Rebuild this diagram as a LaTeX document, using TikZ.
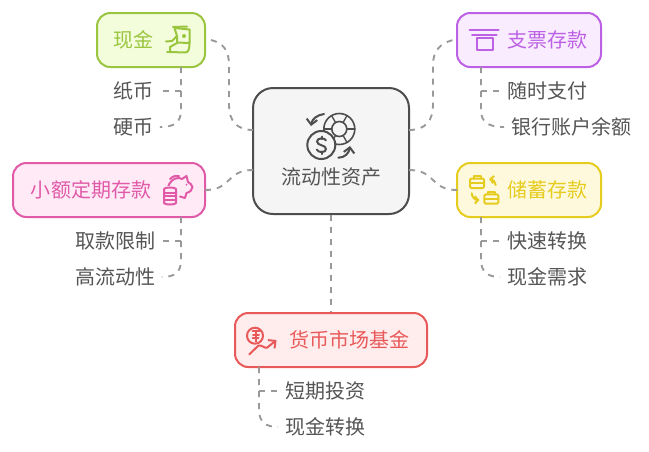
\documentclass[tikz,border=0pt]{standalone}
\usepackage{fontspec}
\setmainfont{Noto Sans CJK SC}
\usetikzlibrary{arrows.meta}
\definecolor{linec}{HTML}{999999}
\definecolor{leafc}{HTML}{555555}
\definecolor{centerb}{HTML}{4D4D4D}
\definecolor{centerf}{HTML}{F5F5F5}
\definecolor{greenb}{HTML}{9AC53E}
\definecolor{greenf}{HTML}{F3FDDC}
\definecolor{purpleb}{HTML}{BC60E6}
\definecolor{purplef}{HTML}{F9ECFE}
\definecolor{pinkb}{HTML}{E05AA8}
\definecolor{pinkf}{HTML}{FFEAF6}
\definecolor{yellowb}{HTML}{E6CC1E}
\definecolor{yellowf}{HTML}{FEF9DC}
\definecolor{redb}{HTML}{E85A5A}
\definecolor{redf}{HTML}{FFECEC}
\tikzset{
  txt/.style={font=\fontsize{15}{18}\selectfont,inner sep=0pt},
  catbox/.style={draw=#1b,fill=#1f,line width=1.5pt,rounded corners=10pt,inner sep=0pt,minimum height=40.5pt},
  cattext/.style={txt,text=#1b},
  leaf/.style={txt,text=leafc,inner xsep=5pt},
  conn/.style={draw=linec,line width=1.4pt,dash pattern=on 4.5pt off 4.5pt},
  ico/.style={draw=#1,line width=1.5pt,line cap=round,line join=round}
}
\begin{document}
\begin{tikzpicture}[x=0.75pt,y=-0.75pt]
\useasboundingbox (0,0) rectangle (649,451);
\fill[white] (0,0) rectangle (649,451);

\node[draw=centerb,fill=centerf,line width=1.5pt,rounded corners=15pt,minimum width=117pt,minimum height=94.5pt,inner sep=0pt] (core) at (331,151) {};
\node[catbox=green,minimum width=81pt] (cash) at (151,40) {};
\node[catbox=purple,minimum width=108pt] (check) at (529,40) {};
\node[catbox=pink,minimum width=144pt] (small) at (109,190) {};
\node[catbox=yellow,minimum width=108pt] (save) at (529,190) {};
\node[catbox=red,minimum width=144pt] (money) at (331,340) {};

\coordinate (cashR) at (211,40);
\coordinate (checkL) at (453,40);
\coordinate (coreLU) at (253,130);
\coordinate (coreRU) at (409,130);
\coordinate (coreLD) at (253,170);
\coordinate (coreRD) at (409,170);
\coordinate (smallR) at (205,190);
\coordinate (saveL) at (457,190);

\draw[conn] (cashR) .. controls (223,43) and (229,50) .. (229,65) -- (229,105) .. controls (229,120) and (236,130) .. (coreLU);
\draw[conn] (coreRU) .. controls (426,130) and (433,120) .. (433,105) -- (433,65) .. controls (433,50) and (441,43) .. (checkL);
\draw[conn] (smallR) .. controls (232,190) and (226,170) .. (coreLD);
\draw[conn] (coreRD) .. controls (436,170) and (430,190) .. (saveL);
\draw[conn] (core.south) -- (money.north);

\node[leaf] (l1) at (133,91) {纸币};
\node[leaf] (l2) at (133,127) {硬币};
\node[leaf] (r1) at (547,91) {随时支付};
\node[leaf] (r2) at (571,127) {银行账户余额};
\node[leaf] (l3) at (115,241) {取款限制};
\node[leaf] (l4) at (115,277) {高流动性};
\node[leaf] (r3) at (547,241) {快速转换};
\node[leaf] (r4) at (547,277) {现金需求};
\node[leaf] (b1) at (325,391) {短期投资};
\node[leaf] (b2) at (325,427) {现金转换};

\coordinate (t1) at (181,67);  \coordinate (t1a) at (181,91);
\coordinate (t2) at (481,67);  \coordinate (t2a) at (481,91);
\coordinate (t3) at (181,217); \coordinate (t3a) at (181,241);
\coordinate (t4) at (481,217); \coordinate (t4a) at (481,241);
\coordinate (t5) at (259,367); \coordinate (t5a) at (259,391);

\draw[conn] (t1) -- (181,110) .. controls (181,122) and (175,127) .. (l2.east);
\draw[conn] (t1a) -- (l1.east);
\draw[conn] (t2) -- (481,110) .. controls (481,122) and (488,127) .. (r2.west);
\draw[conn] (t2a) -- (r1.west);
\draw[conn] (t3) -- (181,260) .. controls (181,272) and (175,277) .. (l4.east);
\draw[conn] (t3a) -- (l3.east);
\draw[conn] (t4) -- (481,260) .. controls (481,272) and (488,277) .. (r4.west);
\draw[conn] (t4a) -- (r3.west);
\draw[conn] (t5) -- (259,410) .. controls (259,422) and (266,427) .. (b2.west);
\draw[conn] (t5a) -- (b1.west);

\node[cattext=green] (tcash) at (133,40) {现金};
\node[cattext=purple] (tcheck) at (547,40) {支票存款};
\node[cattext=pink] (tsmall) at (91,190) {小额定期存款};
\node[cattext=yellow] (tsave) at (547,190) {储蓄存款};
\node[cattext=red] (tmoney) at (349,340) {货币市场基金};
\node[txt,text=leafc] (tcore) at (331,177) {流动性资产};

% core icon
\begin{scope}[ico=centerb]
\draw[line width=1.2pt] (339.3,129) circle[radius=15.5];
\draw[line width=1.2pt] (339.3,129) circle[radius=7.5];
\foreach \a in {0,60,120,180,240,300}
  \draw[line width=1pt] (339.3,129) ++(\a:7.5) -- ++(\a:8);
\fill[centerf] (321.3,145) circle[radius=14];
\draw (321.3,145) circle[radius=14];
\draw (326,140.5) .. controls (325,137.5) and (317,137.5) .. (317,141.5) .. controls (317,146) and (326,144.5) .. (326,149) .. controls (326,153) and (318,153) .. (316.7,149.5);
\draw (321.5,136.5) -- (321.5,139);
\draw (321.5,151.5) -- (321.5,154);
\draw[-{Straight Barb[length=4pt,width=8pt]}] (324,114) .. controls (317,115) and (312,119) .. (311,126);
\draw[-{Straight Barb[length=4pt,width=8pt]}] (338.3,157.7) .. controls (345,157.7) and (349,153) .. (350,146);
\end{scope}

% cash icon
\begin{scope}[ico=greenb]
\draw (177,36) -- (174.5,28) -- (189.5,29.5) -- (189.5,43) -- (177,42.5);
\draw (173,27) -- (187,26.5);
\fill[greenb] (184,36) circle[radius=2];
\draw (166,41.5) -- (172,41) -- (177,36) -- (177,43) -- (170,47) -- (170,52);
\draw (170,52) -- (185,52.5) .. controls (188,52.5) and (189.5,50) .. (189.5,43);
\draw (167,52) -- (170,52);
\end{scope}

% check icon
\begin{scope}[ico=purpleb]
\draw (469.5,30) -- (498.5,30);
\draw (472,34.5) -- (496.5,34.5);
\draw (476.5,38) rectangle (492.5,49.5);
\end{scope}

% piggy icon
\begin{scope}[ico=pinkb]
\draw (168,187) .. controls (171,178) and (179,176.5) .. (182,179) -- (186.5,176) -- (188,182) .. controls (190,183) and (192,185) .. (192.5,187) .. controls (192.5,190) and (190,192) .. (186.5,193) -- (185,198) -- (180,196.5);
\draw (170,179) .. controls (173,176) and (176,175.5) .. (179,176);
\fill[pinkb] (186.5,184.5) circle[radius=1];
\fill[pinkf] (163,186) rectangle (177,205);
\draw (164,189) .. controls (164,187) and (176,187) .. (176,189) -- (176,203) .. controls (176,205) and (164,205) .. (164,203) -- cycle;
\draw (164,192.5) -- (176,192.5);
\draw (164,196) -- (176,196);
\draw (164,199.5) -- (176,199.5);
\end{scope}

% savings icon
\begin{scope}[ico=yellowb]
\draw[rounded corners=1pt] (470,178.5) rectangle (484,188);
\draw (470,183.3) -- (484,183.3);
\draw (474,178.5) -- (474,176) -- (480.5,176) -- (480.5,178.5);
\draw[rounded corners=1pt] (484.3,194.3) rectangle (498.3,203.7);
\draw (484.3,199) -- (498.3,199);
\draw (488,194.3) -- (488,191.7) -- (494.5,191.7) -- (494.5,194.3);
\draw[-{Straight Barb[length=2.5pt,width=5.5pt]}] (495.7,185) .. controls (495.5,182) and (493,179.5) .. (489,179);
\draw[-{Straight Barb[length=2.5pt,width=5.5pt]}] (471.7,193.3) .. controls (472,197) and (475,200) .. (479.5,200);
\end{scope}

% fund icon
\begin{scope}[ico=redb]
\draw (255,335.7) circle[radius=8];
\draw (252.7,330.5) -- (260,330.5);
\draw (253,335) -- (259,335);
\draw (256,330.5) -- (256,341.5);
\draw (252.5,338.3) -- (258.5,338.3);
\draw[-{Straight Barb[length=4pt,width=8pt]}] (249.3,354.3) -- (258.3,345.7) .. controls (262,344.5) and (264,348.5) .. (267,347.7) -- (276.5,340);
\end{scope}
\end{tikzpicture}
\end{document}
